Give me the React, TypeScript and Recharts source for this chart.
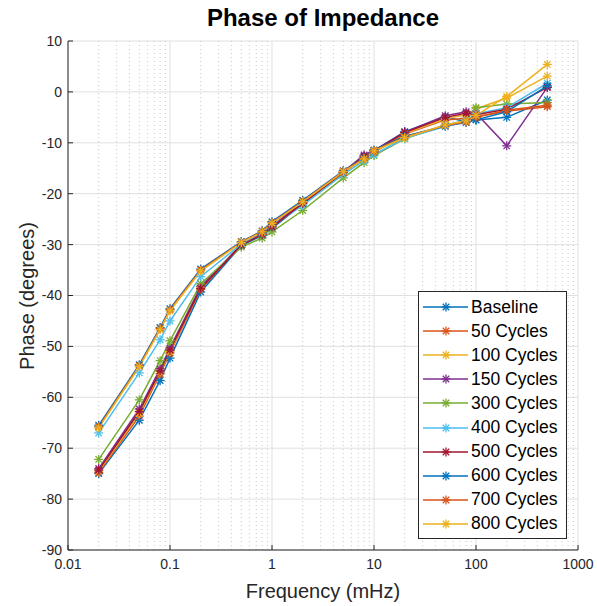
import React from 'react'
import { LineChart, Line, XAxis, YAxis, CartesianGrid, ReferenceLine, Legend } from 'recharts'

// frequencies in mHz
const freqs = [0.02, 0.05, 0.08, 0.1, 0.2, 0.5, 0.8, 1, 2, 5, 8, 10, 20, 50, 80, 100, 200, 500]

const baseline = [-75.0, -64.5, -56.7, -52.3, -39.3, -30.2, -28.2, -26.8, -22.0, -15.8, -12.6, -11.6, -7.8, -5.0, -5.8, -5.5, -5.0, -1.6]
const cyc50 = [-74.8, -63.7, -55.4, -51.3, -38.8, -30.0, -28.0, -26.5, -21.9, -15.9, -13.0, -11.9, -8.3, -5.5, -5.2, -4.9, -3.8, -2.9]
const cyc100 = [-74.5, -63.2, -55.0, -51.0, -38.5, -30.0, -27.9, -26.4, -21.8, -15.8, -12.8, -11.7, -8.2, -5.3, -4.5, -3.3, -1.2, 3.1]
const cyc150 = [-74.0, -62.3, -54.4, -50.3, -38.2, -30.0, -27.8, -26.3, -21.7, -15.7, -12.4, -11.5, -7.9, -4.7, -3.9, -4.2, -10.6, 0.9]
const cyc300 = [-72.2, -60.5, -52.8, -48.9, -37.7, -30.5, -28.7, -27.5, -23.3, -16.9, -13.9, -12.5, -9.2, -6.5, -5.6, -3.1, -2.4, -2.1]
const cyc400 = [-67.0, -55.2, -48.7, -45.0, -36.3, -29.9, -27.9, -26.3, -22.3, -16.2, -13.5, -12.3, -9.1, -6.8, -5.6, -4.3, -3.1, 1.7]
const cyc500 = [-74.3, -62.8, -54.8, -50.7, -38.6, -30.1, -28.0, -26.5, -21.9, -15.8, -12.7, -11.7, -8.0, -5.0, -4.2, -4.5, -3.4, 0.9]
const cyc600 = [-65.5, -53.6, -46.3, -42.6, -34.8, -29.4, -27.3, -25.5, -21.3, -15.5, -13.0, -11.4, -8.7, -6.7, -6.0, -5.5, -3.9, 1.2]
const cyc700 = [-65.8, -53.8, -46.5, -42.8, -35.0, -29.5, -27.4, -25.7, -21.5, -15.6, -13.1, -11.5, -8.9, -6.6, -5.9, -5.0, -3.6, -2.6]
const cyc800 = [-66.0, -54.0, -46.7, -43.0, -35.2, -29.6, -27.5, -25.8, -21.6, -15.7, -13.2, -11.6, -9.0, -6.5, -5.7, -4.6, -0.9, 5.4]

const seriesNames = ['Baseline', '50 Cycles', '100 Cycles', '150 Cycles', '300 Cycles', '400 Cycles', '500 Cycles', '600 Cycles', '700 Cycles', '800 Cycles']
const seriesValues = [baseline, cyc50, cyc100, cyc150, cyc300, cyc400, cyc500, cyc600, cyc700, cyc800]
const colors = ['#0072BD', '#D95319', '#EDB120', '#7E2F8E', '#77AC30', '#4DBEEE', '#A2142F', '#0072BD', '#D95319', '#EDB120']

const xTicks = [0.01, 0.1, 1, 10, 100, 1000]
const yTicks = [-90, -80, -70, -60, -50, -40, -30, -20, -10, 0, 10]
const minorX = [0.01, 0.1, 1, 10, 100].flatMap(d => [2, 3, 4, 5, 6, 7, 8, 9].map(m => +(d * m).toPrecision(3)))

const data = freqs.map((f, i) => {
  const row: Record<string, number> = { f }
  seriesValues.forEach((s, k) => { row['s' + k] = s[i] })
  return row
})

const font = '"Liberation Sans", Arial, Helvetica, sans-serif'
const ink = '#262626'

function Star({ cx, cy, color, r = 4.5 }: { cx: number; cy: number; color: string; r?: number }) {
  const d = r * 0.72
  return (
    <g stroke={color} strokeWidth={1.3}>
      <line x1={cx - r} y1={cy} x2={cx + r} y2={cy} />
      <line x1={cx} y1={cy - r} x2={cx} y2={cy + r} />
      <line x1={cx - d} y1={cy - d} x2={cx + d} y2={cy + d} />
      <line x1={cx - d} y1={cy + d} x2={cx + d} y2={cy - d} />
    </g>
  )
}

function LegendBox() {
  return (
    <div style={{ background: '#fff', border: `1px solid ${ink}`, width: 147, padding: '3px 0 2px 0', fontFamily: font }}>
      {seriesNames.map((n, k) => (
        <div key={n} style={{ display: 'flex', alignItems: 'center', height: 24.1 }}>
          <svg width={52} height={12} style={{ flex: 'none' }}>
            <line x1={4} y1={6} x2={49} y2={6} stroke={colors[k]} strokeWidth={1.5} />
            <Star cx={27} cy={6} color={colors[k]} />
          </svg>
          <span style={{ fontSize: 17.5, color: '#000', whiteSpace: 'nowrap' }}>{n}</span>
        </div>
      ))}
    </div>
  )
}

export default function App() {
  return (
    <div style={{ position: 'absolute', left: 0, top: 0, width: 597, height: 606, background: '#fff', fontFamily: font }}>
      <div style={{ position: 'absolute', left: 68, width: 510, top: 4, textAlign: 'center', fontSize: 24, fontWeight: 'bold', color: '#000' }}>
        Phase of Impedance
      </div>
      <div style={{ position: 'absolute', left: 68, width: 510, top: 580, textAlign: 'center', fontSize: 20, color: ink }}>
        Frequency (mHz)
      </div>
      <div style={{ position: 'absolute', left: 27, top: 296, transform: 'translate(-50%, -50%) rotate(-90deg)', fontSize: 20, color: ink, whiteSpace: 'nowrap' }}>
        Phase (degrees)
      </div>
      <LineChart width={597} height={606} data={data} margin={{ top: 41, right: 19, bottom: 0, left: 0 }}>
        {minorX.map(v => (
          <ReferenceLine key={v} x={v} stroke="#c8c8c8" strokeDasharray="1 3" ifOverflow="hidden" />
        ))}
        <CartesianGrid stroke="#e0e0e0" />
        <XAxis
          dataKey="f"
          type="number"
          scale="log"
          domain={[0.01, 1000]}
          ticks={xTicks}
          allowDataOverflow
          height={56}
          tickSize={-5}
          tickMargin={14}
          stroke={ink}
          tick={{ fill: ink, fontSize: 14, fontFamily: font }}
          tickFormatter={(v: number) => String(v)}
        />
        <YAxis
          type="number"
          domain={[-90, 10]}
          ticks={yTicks}
          width={68}
          tickSize={-5}
          tickMargin={11}
          stroke={ink}
          tick={{ fill: ink, fontSize: 14, fontFamily: font }}
          interval={0}
        />
        <Legend
          layout="vertical"
          align="center"
          verticalAlign="middle"
          content={() => <LegendBox />}
          wrapperStyle={{ left: 418, top: 291, width: 'auto', height: 'auto' }}
        />
        {seriesNames.map((n, k) => (
          <Line
            key={n}
            name={n}
            dataKey={'s' + k}
            stroke={colors[k]}
            strokeWidth={1.5}
            isAnimationActive={false}
            activeDot={false}
            dot={(p: any) => <Star key={`${n}-${p.index}`} cx={p.cx} cy={p.cy} color={colors[k]} />}
          />
        ))}
      </LineChart>
    </div>
  )
}
